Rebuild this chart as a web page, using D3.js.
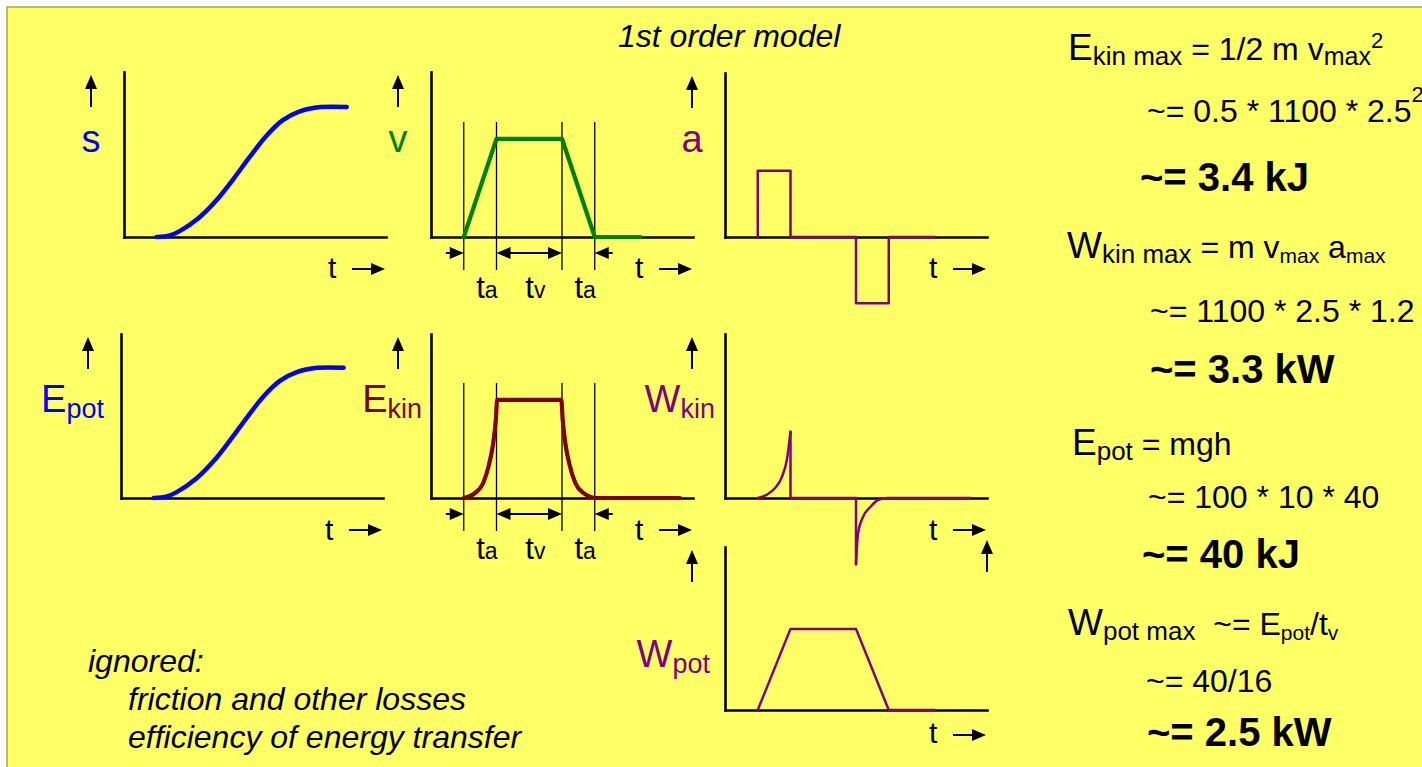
<!DOCTYPE html>
<html>
<head>
<meta charset="utf-8">
<script src="https://cdn.jsdelivr.net/npm/d3@7"></script>
<style>
  body { margin: 0; background: #ffffff; }
  svg { display: block; }
  text { white-space: pre; }
</style>
</head>
<body>
<svg id="chart" width="1422" height="767"></svg>
<script>
// Time is measured in units of the acceleration phase t_a = 1.
// Phase boundaries: start of acceleration, end of acceleration, start of braking, stop.
const phaseMarks = [1, 2, 4, 5];

// position s(t) and potential energy E_pot(t): smooth S-curves (normalised to 1)
const sTime     = [1, 1.4, 1.7, 2.3, 2.85, 3.35, 3.85, 4.35, 4.85, 5.35, 6, 6.8];
const sValues   = [0, 0.012, 0.045, 0.15, 0.29, 0.45, 0.62, 0.78, 0.9, 0.965, 1, 1];
const epotTime   = [1, 1.4, 1.7, 2.3, 2.85, 3.35, 3.85, 4.35, 4.85, 5.35, 6, 6.8];
const epotValues = [0, 0.012, 0.045, 0.15, 0.29, 0.45, 0.62, 0.78, 0.9, 0.965, 1, 1];

// velocity v(t): trapezoid profile
const vTime   = [1, 2, 4, 5, 6.4];
const vValues = [0, 1, 1, 0, 0];

// acceleration a(t): rectangular pulses (step-after)
const aTime   = [1, 1, 2, 4, 5, 6.4];
const aValues = [0, 1, 0, -1, 0, 0];

// kinetic energy E_kin(t)
const ekinTime   = [1, 1.34, 1.59, 1.77, 1.89, 1.98, 2.02, 3.98, 4.02, 4.11, 4.23, 4.41, 4.66, 5.05, 7.6];
const ekinValues = [0, 0.05, 0.15, 0.34, 0.54, 0.8, 1, 1, 0.8, 0.54, 0.34, 0.15, 0.05, 0, 0];

// kinetic power W_kin(t): rising spike, jump back, negative spike recovering
const wkinRiseTime   = [1, 1.28, 1.53, 1.74, 1.89, 2];
const wkinRiseValues = [0, 0.05, 0.15, 0.32, 0.58, 1];
const wkinJumpTime   = [2, 2, 4, 4];
const wkinJumpValues = [1, 0, 0, -1];
const wkinFallTime   = [4, 4.06, 4.21, 4.43, 4.67, 4.95, 7.5];
const wkinFallValues = [-1, -0.54, -0.29, -0.14, -0.03, 0, 0];

// potential power W_pot(t): trapezoid like v(t)
const wpotTime   = [1, 2, 4, 5, 6.4];
const wpotValues = [0, 1, 1, 0, 0];

// duration labels under v(t) and E_kin(t)
const phaseLabels = [
  { from: 1, to: 2, main: "t", sub: "a" },
  { from: 2, to: 4, main: "t", sub: "v" },
  { from: 4, to: 5, main: "t", sub: "a" }
];

// worked numbers in the right column
const formulaLines = [
  { x: 1068, y: 60,  parts: [["E", 37], ["kin max", 26, 5], [" = 1/2 m v", 32], ["max", 25, 5], ["2", 22, -12]] },
  { x: 1147, y: 122, parts: [["~= 0.5 * 1100 * 2.5", 32], ["2", 22, -20]] },
  { x: 1140, y: 191, parts: [["~= 3.4 kJ", 40, 0, true]] },
  { x: 1067, y: 258, parts: [["W", 37], ["kin max", 26, 5], [" = m v", 32], ["max", 21, 5], [" a", 32], ["max", 21, 5]] },
  { x: 1150, y: 322, parts: [["~= 1100 * 2.5 * 1.2", 32]] },
  { x: 1150, y: 383, parts: [["~= 3.3 kW", 40, 0, true]] },
  { x: 1072, y: 455, parts: [["E", 37], ["pot", 26, 5], [" = mgh", 32]] },
  { x: 1148, y: 508, parts: [["~= 100 * 10 * 40", 32]] },
  { x: 1142, y: 568, parts: [["~= 40 kJ", 40, 0, true]] },
  { x: 1068, y: 635, parts: [["W", 37], ["pot max", 26, 5], ["  ~= E", 32], ["pot", 21, 5], ["/t", 32], ["v", 21, 5]] },
  { x: 1146, y: 692, parts: [["~= 40/16", 32]] },
  { x: 1147, y: 746, parts: [["~= 2.5 kW", 40, 0, true]] }
];

const notes = ["ignored:", "friction and other losses", "efficiency of energy transfer"];

// ---------------------------------------------------------------------------
const W = 1422, H = 767;
const FONT = "'Liberation Sans', Arial, Helvetica, sans-serif";
const BLUE = "#0000ff", GREEN = "#008000", PURPLE = "#800080", DARKRED = "#800000";
const T_MAX = 8, PANEL_W = 262;

const svg = d3.select("#chart");

// slide background
svg.append("rect")
  .attr("x", 7).attr("y", 7).attr("width", W).attr("height", H)
  .attr("fill", "#ffff66").attr("stroke", "#a8a840").attr("stroke-width", 1.5);

function upArrow(x, yTip, yTail) {
  svg.append("line").attr("x1", x).attr("x2", x).attr("y1", yTip + 10).attr("y2", yTail)
    .attr("stroke", "#000").attr("stroke-width", 2);
  svg.append("path").attr("d", `M${x},${yTip}L${x - 6},${yTip + 14}L${x + 6},${yTip + 14}Z`).attr("fill", "#000");
}
function hArrow(x1, x2, y, headBoth) {
  const d = Math.sign(x2 - x1);
  svg.append("line").attr("x1", headBoth ? x1 + d * 10 : x1).attr("x2", x2 - d * 10)
    .attr("y1", y).attr("y2", y).attr("stroke", "#000").attr("stroke-width", 2);
  svg.append("path").attr("d", `M${x2},${y}L${x2 - d * 14},${y - 6}L${x2 - d * 14},${y + 6}Z`).attr("fill", "#000");
  if (headBoth) {
    svg.append("path").attr("d", `M${x1},${y}L${x1 + d * 14},${y - 6}L${x1 + d * 14},${y + 6}Z`).attr("fill", "#000");
  }
}
// text with sub/superscripts; shifts are relative (dy) so the text stays one chunk
function rich(x, y, parts, opt = {}) {
  const t = svg.append("text").attr("x", x).attr("y", y)
    .attr("font-family", FONT).attr("fill", opt.color || "#000");
  if (opt.anchor) t.attr("text-anchor", opt.anchor);
  if (opt.italic) t.attr("font-style", "italic");
  let cur = 0;
  parts.forEach(([txt, size, shift = 0, bold = false]) => {
    t.append("tspan").attr("dy", shift - cur).attr("font-size", size)
      .attr("font-weight", bold ? "bold" : "normal").text(txt);
    cur = shift;
  });
  return t;
}

// one small time diagram: axes without ticks, arrows, label
function panel(cfg) {
  const x = d3.scaleLinear().domain([0, T_MAX]).range([cfg.x0, cfg.x0 + PANEL_W]);
  const y = d3.scaleLinear().domain([0, cfg.yMax]).range([cfg.base, cfg.top]);
  const g = svg.append("g");
  const gx = g.append("g").attr("transform", `translate(0,${cfg.base})`)
    .call(d3.axisBottom(x).tickValues([]).tickSizeOuter(0));
  const gy = g.append("g").attr("transform", `translate(${cfg.x0},0)`)
    .call(d3.axisLeft(y).tickValues([]).tickSizeOuter(0));
  [gx, gy].forEach(a => a.select(".domain")
    .attr("stroke", "#000").attr("stroke-width", 2.6).attr("stroke-linecap", "square"));

  // "t →" under the time axis
  const xEnd = cfg.x0 + PANEL_W;
  rich(xEnd - 58, cfg.base + cfg.tLab, [["t", 30]]);
  hArrow(xEnd - 34, xEnd - 1, cfg.base + cfg.tArr);
  // quantity arrow and name
  upArrow(cfg.x0 - 33, cfg.top + 3, cfg.top + 35);
  rich(cfg.labX, cfg.labY, cfg.label, { color: cfg.color, anchor: cfg.anchor });
  return { x, y, g };
}

function drawLine(p, times, values, curve, color, width) {
  const line = d3.line().x(d => p.x(d[0])).y(d => p.y(d[1])).curve(curve);
  p.g.append("path").datum(d3.zip(times, values)).attr("d", line)
    .attr("fill", "none").attr("stroke", color).attr("stroke-width", width)
    .attr("stroke-linecap", "round").attr("stroke-linejoin", "round");
}

function phaseGuides(p, base) {
  phaseMarks.forEach(t => {
    p.g.append("line").attr("x1", p.x(t)).attr("x2", p.x(t))
      .attr("y1", base - 115).attr("y2", base + 33).attr("stroke", "#000").attr("stroke-width", 1.3);
  });
  const ya = base + 16;
  hArrow(p.x(phaseMarks[0]) - 18, p.x(phaseMarks[0]), ya);
  hArrow(p.x(phaseMarks[1]), p.x(phaseMarks[2]), ya, true);
  hArrow(p.x(phaseMarks[3]) + 18, p.x(phaseMarks[3]), ya);
  phaseLabels.forEach(l => {
    const mid = (p.x(l.from) + p.x(l.to)) / 2;
    rich(mid - 4, base + 61, [[l.main, 31], [l.sub, 23, 0]]);
  });
}

const smooth = d3.curveCatmullRom.alpha(0.5);

// ---- row 1 -----------------------------------------------------------------
const pS = panel({ x0: 124, base: 237, top: 72, yMax: 1.27, tLab: 41, tArr: 32,
  label: [["s", 38]], labX: 91, labY: 152, anchor: "middle", color: BLUE });
drawLine(pS, sTime, sValues, smooth, BLUE, 4.5);

const pV = panel({ x0: 431, base: 237, top: 72, yMax: 1.68, tLab: 41, tArr: 32,
  label: [["v", 38]], labX: 398, labY: 152, anchor: "middle", color: GREEN });
phaseGuides(pV, 237);
drawLine(pV, vTime, vValues, d3.curveLinear, GREEN, 4.2);

const pA = panel({ x0: 725, base: 237, top: 73, yMax: 2.48, tLab: 41, tArr: 32,
  label: [["a", 38]], labX: 692, labY: 152, anchor: "middle", color: PURPLE });
drawLine(pA, aTime, aValues, d3.curveStepAfter, PURPLE, 2.5);

// ---- row 2 -----------------------------------------------------------------
const pEp = panel({ x0: 121, base: 498, top: 334, yMax: 1.26, tLab: 42, tArr: 32,
  label: [["E", 38], ["pot", 27, 6]], labX: 104, labY: 412, anchor: "end", color: BLUE });
drawLine(pEp, epotTime, epotValues, smooth, BLUE, 4.5);

const pEk = panel({ x0: 431, base: 498, top: 334, yMax: 1.67, tLab: 42, tArr: 32,
  label: [["E", 38], ["kin", 27, 6]], labX: 422, labY: 412, anchor: "end", color: DARKRED });
phaseGuides(pEk, 498);
drawLine(pEk, ekinTime, ekinValues, d3.curveMonotoneX, DARKRED, 4.2);

const pWk = panel({ x0: 725, base: 498, top: 334, yMax: 2.48, tLab: 42, tArr: 32,
  label: [["W", 38], ["kin", 27, 6]], labX: 715, labY: 412, anchor: "end", color: PURPLE });
drawLine(pWk, wkinRiseTime, wkinRiseValues, d3.curveMonotoneX, PURPLE, 2.5);
drawLine(pWk, wkinJumpTime, wkinJumpValues, d3.curveLinear, PURPLE, 2.5);
drawLine(pWk, wkinFallTime, wkinFallValues, d3.curveMonotoneX, PURPLE, 2.5);

// ---- row 3 -----------------------------------------------------------------
const pWp = panel({ x0: 725, base: 710, top: 547, yMax: 2.01, tLab: 33, tArr: 25,
  label: [["W", 38], ["pot", 27, 6]], labX: 710, labY: 667, anchor: "end", color: PURPLE });
drawLine(pWp, wpotTime, wpotValues, d3.curveLinear, PURPLE, 2.5);
upArrow(987, 540, 572);

// ---- texts -----------------------------------------------------------------
rich(618, 47, [["1st order model", 32]], { italic: true });

formulaLines.forEach(l => rich(l.x, l.y, l.parts));

rich(88, 672, [[notes[0], 32]], { italic: true });
rich(128, 710, [[notes[1], 32]], { italic: true });
rich(128, 748, [[notes[2], 32]], { italic: true });
</script>
</body>
</html>
